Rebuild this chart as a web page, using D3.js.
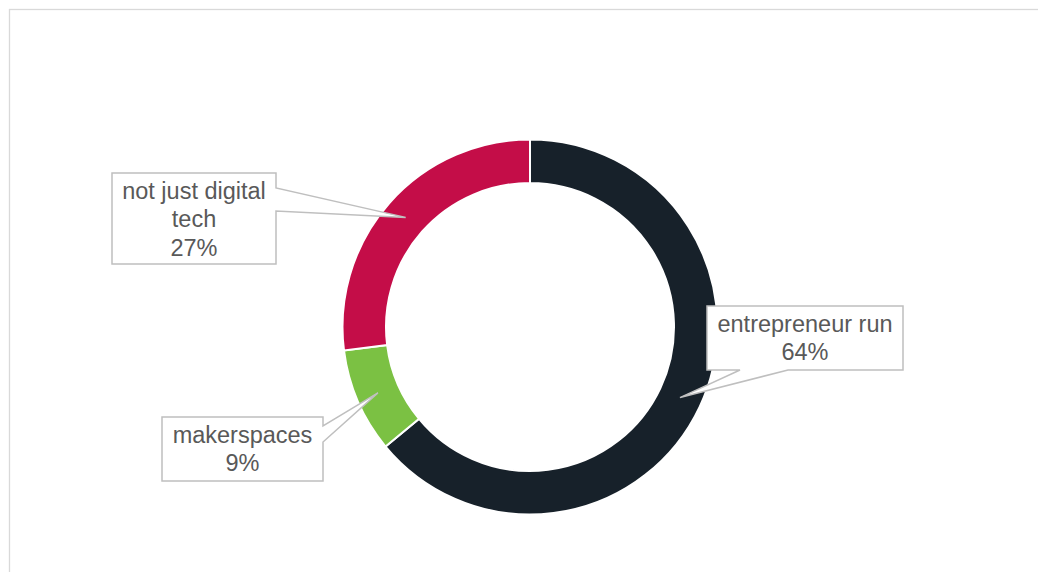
<!DOCTYPE html>
<html>
<head>
<meta charset="utf-8">
<script src="https://cdn.jsdelivr.net/npm/d3@7/dist/d3.min.js"></script>
<style>
  html, body { margin: 0; padding: 0; background: #ffffff; }
  svg { display: block; }
</style>
</head>
<body>
<svg id="chart" width="1038" height="572"></svg>
<script>
// Share of spaces by type
const categories = ["entrepreneur run", "makerspaces", "not just digital tech"];
const shares = [64, 9, 27];
const sliceColors = ["#17212a", "#7bc143", "#c40d48"];

// Callout boxes (layout): box rectangle, pointer side and where the pointer leaves the box
const callouts = [
  { x0: 707, y0: 306, x1: 903, y1: 370, side: "bottom", p0: 740, p1: 788, wrap: 190 },
  { x0: 162, y0: 417, x1: 323, y1: 481, side: "right",  p0: 426, p1: 442, wrap: 155 },
  { x0: 112, y0: 173, x1: 276, y1: 264, side: "right",  p0: 188, p1: 211, wrap: 155 }
];

const svg = d3.select("#chart");
const cx = 530, cy = 327, outerR = 187.5, innerR = 144;

// Chart area frame (runs off the right and bottom of the view)
svg.append("rect")
  .attr("x", 9.5).attr("y", 9.5)
  .attr("width", 1100).attr("height", 700)
  .attr("fill", "none").attr("stroke", "#d9d9d9").attr("stroke-width", 1.3);

const data = categories.map((c, i) => ({ name: c, value: shares[i], color: sliceColors[i] }));

const pie = d3.pie().value(d => d.value).sort(null).startAngle(0).endAngle(2 * Math.PI);
const arc = d3.arc().innerRadius(innerR).outerRadius(outerR);
const arcs = pie(data);

const g = svg.append("g").attr("transform", `translate(${cx},${cy})`);
g.selectAll("path.slice")
  .data(arcs)
  .join("path")
  .attr("class", "slice")
  .attr("d", arc)
  .attr("fill", d => d.data.color)
  .attr("stroke", "#ffffff")
  .attr("stroke-width", 2);

// Callout shapes pointing at each slice's centroid
const fmt = v => v + "%";
arcs.forEach((a, i) => {
  const c = callouts[i];
  const [tx0, ty0] = arc.centroid(a);
  const tx = tx0 + cx, ty = ty0 + cy;
  let d = `M${c.x0},${c.y0}H${c.x1}`;
  if (c.side === "right") {
    d += `V${c.p0}L${tx},${ty}L${c.x1},${c.p1}V${c.y1}H${c.x0}Z`;
  } else {
    d += `V${c.y1}H${c.p1}L${tx},${ty}L${c.p0},${c.y1}H${c.x0}Z`;
  }
  svg.append("path")
    .attr("d", d)
    .attr("fill", "#ffffff")
    .attr("stroke", "#bfbfbf")
    .attr("stroke-width", 1.5)
    .attr("stroke-linejoin", "miter");

  const text = svg.append("text")
    .attr("text-anchor", "middle")
    .attr("font-family", "'Liberation Sans', Arial, sans-serif")
    .attr("font-size", 23.5)
    .attr("fill", "#595959");

  // word-wrap the category name inside the box
  const words = a.data.name.split(" ");
  const lines = [];
  let line = [];
  const probe = text.append("tspan");
  words.forEach(w => {
    const trial = line.concat(w).join(" ");
    probe.text(trial);
    if (probe.node().getComputedTextLength() > c.wrap && line.length) {
      lines.push(line.join(" "));
      line = [w];
    } else {
      line.push(w);
    }
  });
  lines.push(line.join(" "));
  probe.remove();
  lines.push(fmt(a.data.value));

  const mid = (c.x0 + c.x1) / 2;
  lines.forEach((t, k) => {
    text.append("tspan")
      .attr("x", mid)
      .attr("y", c.y0 + 26 + k * 28.3)
      .text(t);
  });
});
</script>
</body>
</html>
